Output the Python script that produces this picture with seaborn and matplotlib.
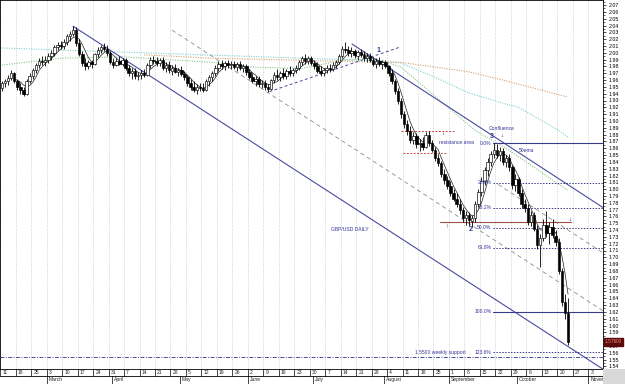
import numpy as np
import pandas as pd
import matplotlib
matplotlib.use('Agg')
import matplotlib.pyplot as plt
from matplotlib.patches import Rectangle
from matplotlib.transforms import Bbox, blended_transform_factory
import seaborn as sns

# GBP/USD daily candles, trading days counted from Mon 11 Feb 2008 (day 0)
first_open = 1.948
closes = [1.955, 1.958, 1.963, 1.970, 1.958, 1.950, 1.945, 1.940, 1.958, 1.966,
          1.975, 1.982, 1.988, 1.986, 1.990, 1.995, 2.000, 2.008, 2.012, 2.010,
          2.016, 2.024, 2.028, 2.034, 2.015, 1.998, 1.985, 1.980, 1.986, 1.984,
          1.998, 2.004, 2.008, 2.006, 1.999, 1.987, 1.982, 1.988, 1.984, 1.989,
          1.978, 1.970, 1.974, 1.966, 1.968, 1.970, 1.968, 1.982, 1.990, 1.988,
          1.985, 1.990, 1.978, 1.982, 1.974, 1.978, 1.972, 1.975, 1.969, 1.964,
          1.956, 1.950, 1.946, 1.950, 1.948, 1.946, 1.958, 1.964, 1.970, 1.978,
          1.984, 1.980, 1.985, 1.982, 1.984, 1.979, 1.983, 1.978, 1.980, 1.972,
          1.965, 1.958, 1.962, 1.954, 1.956, 1.950, 1.947, 1.960, 1.968, 1.964,
          1.970, 1.966, 1.973, 1.970, 1.975, 1.978, 1.987, 1.992, 1.988, 1.992,
          1.985, 1.980, 1.974, 1.970, 1.975, 1.978, 1.976, 1.982, 1.986, 1.995,
          2.006, 2.004, 2.000, 2.002, 1.996, 2.001, 1.997, 1.992, 1.996, 1.990,
          1.984, 1.988, 1.983, 1.986, 1.980, 1.970, 1.958, 1.944, 1.930, 1.910,
          1.895, 1.885, 1.872, 1.878, 1.866, 1.868, 1.862, 1.880, 1.868, 1.858,
          1.846, 1.838, 1.822, 1.814, 1.805, 1.795, 1.786, 1.778, 1.770, 1.758,
          1.762, 1.754, 1.758, 1.778, 1.796, 1.812, 1.828, 1.840, 1.852, 1.858,
          1.850, 1.856, 1.840, 1.846, 1.832, 1.806, 1.815, 1.794, 1.778, 1.772,
          1.752, 1.762, 1.742, 1.718, 1.728, 1.748, 1.736, 1.744, 1.732, 1.722,
          1.680, 1.634, 1.618, 1.576]
highs = [1.958, 1.962, 1.968, 1.975, 1.972, 1.962, 1.955, 1.950, 1.962, 1.970,
         1.978, 1.985, 1.992, 1.995, 1.995, 2.000, 2.004, 2.012, 2.016, 2.018,
         2.020, 2.028, 2.032, 2.040, 2.038, 2.020, 2.002, 1.992, 1.990, 1.990,
         2.000, 2.008, 2.012, 2.014, 2.012, 2.002, 1.992, 1.992, 1.995, 1.992,
         1.992, 1.982, 1.978, 1.978, 1.972, 1.975, 1.976, 1.985, 1.994, 1.996,
         1.994, 1.992, 1.994, 1.986, 1.988, 1.982, 1.984, 1.978, 1.980, 1.974,
         1.968, 1.962, 1.958, 1.954, 1.956, 1.955, 1.962, 1.968, 1.974, 1.982,
         1.988, 1.990, 1.988, 1.990, 1.988, 1.988, 1.986, 1.988, 1.984, 1.984,
         1.976, 1.970, 1.966, 1.966, 1.960, 1.960, 1.954, 1.962, 1.972, 1.976,
         1.974, 1.978, 1.976, 1.980, 1.978, 1.982, 1.990, 1.996, 1.998, 1.996,
         1.996, 1.990, 1.986, 1.980, 1.978, 1.982, 1.984, 1.986, 1.990, 1.998,
         2.010, 2.016, 2.010, 2.008, 2.006, 2.004, 2.006, 2.002, 2.000, 2.000,
         1.994, 1.992, 1.994, 1.990, 1.990, 1.982, 1.976, 1.962, 1.948, 1.934,
         1.915, 1.902, 1.892, 1.884, 1.882, 1.874, 1.876, 1.884, 1.886, 1.872,
         1.862, 1.852, 1.842, 1.830, 1.820, 1.812, 1.800, 1.794, 1.786, 1.774,
         1.768, 1.766, 1.762, 1.782, 1.800, 1.818, 1.832, 1.846, 1.856, 1.867,
         1.866, 1.862, 1.860, 1.850, 1.852, 1.836, 1.822, 1.818, 1.800, 1.786,
         1.778, 1.768, 1.766, 1.748, 1.734, 1.756, 1.768, 1.752, 1.756, 1.740,
         1.728, 1.684, 1.646, 1.640]
lows = [1.944, 1.950, 1.953, 1.960, 1.955, 1.945, 1.940, 1.936, 1.938, 1.955,
        1.962, 1.970, 1.978, 1.982, 1.980, 1.985, 1.990, 1.996, 2.004, 2.005,
        2.006, 2.012, 2.018, 2.024, 2.010, 1.995, 1.980, 1.975, 1.976, 1.978,
        1.982, 1.994, 2.000, 2.002, 1.996, 1.984, 1.978, 1.980, 1.982, 1.980,
        1.975, 1.966, 1.962, 1.962, 1.960, 1.962, 1.964, 1.966, 1.978, 1.984,
        1.980, 1.980, 1.975, 1.972, 1.970, 1.968, 1.970, 1.966, 1.966, 1.960,
        1.952, 1.946, 1.942, 1.940, 1.944, 1.942, 1.944, 1.952, 1.958, 1.966,
        1.974, 1.976, 1.975, 1.978, 1.976, 1.976, 1.974, 1.975, 1.972, 1.968,
        1.962, 1.955, 1.952, 1.950, 1.948, 1.946, 1.942, 1.945, 1.955, 1.960,
        1.958, 1.962, 1.962, 1.966, 1.966, 1.970, 1.975, 1.982, 1.984, 1.984,
        1.982, 1.976, 1.970, 1.966, 1.966, 1.970, 1.972, 1.974, 1.978, 1.984,
        1.992, 2.000, 1.996, 1.994, 1.992, 1.990, 1.994, 1.988, 1.986, 1.986,
        1.980, 1.978, 1.980, 1.976, 1.978, 1.966, 1.954, 1.940, 1.925, 1.905,
        1.890, 1.880, 1.868, 1.866, 1.860, 1.856, 1.858, 1.860, 1.864, 1.854,
        1.842, 1.834, 1.818, 1.808, 1.800, 1.790, 1.782, 1.774, 1.764, 1.752,
        1.748, 1.746, 1.744, 1.752, 1.774, 1.790, 1.806, 1.820, 1.834, 1.846,
        1.845, 1.842, 1.836, 1.832, 1.826, 1.800, 1.798, 1.790, 1.772, 1.766,
        1.748, 1.746, 1.738, 1.712, 1.686, 1.724, 1.730, 1.720, 1.728, 1.716,
        1.676, 1.628, 1.610, 1.572]

# weekly ticks (Mondays) and month row
week_labels = ['11', '18', '25', '3', '10', '17', '24', '31', '7', '14', '21', '28',
               '5', '12', '19', '26', '2', '9', '16', '23', '30', '7', '14', '21',
               '28', '4', '11', '18', '25', '1', '8', '15', '22', '29', '6', '13',
               '20', '27', '3']
month_names = ['March', 'April', 'May', 'June', 'July', 'August', 'September',
               'October', 'November']
month_start_days = [15, 36, 58, 80, 101, 124, 145, 167, 190]

# moving averages
teal_days = [0, 32, 65, 97, 123, 129, 140, 151, 162, 167, 180, 183]
teal_vals = [2.007, 2.002, 1.997, 1.992, 1.988, 1.985, 1.964, 1.941, 1.926, 1.920, 1.886, 1.876]
green_days = [0, 19, 39, 68, 81, 97, 110, 120, 129, 153, 163, 183]
green_vals = [1.982, 1.992, 1.994, 1.986, 1.979, 1.977, 1.989, 1.992, 1.979, 1.886, 1.860, 1.798]
orange_days = [46, 68, 97, 123, 129, 140, 151, 162, 172, 183]
orange_vals = [1.997, 1.992, 1.989, 1.986, 1.986, 1.979, 1.972, 1.960, 1.948, 1.935]

# drawn trend lines: (day0, price0, day1, price1)
channel_lines = [(23.0, 2.039, 194.3, 1.536), (113.2, 2.0127, 194.3, 1.773)]
mid_lines = [(55.0, 2.0332, 194.3, 1.6215), (160.4, 1.8068, 194.3, 1.7065)]
wedge_line = (86.5, 1.943, 128.5, 2.008)
support_line = 1.554
level_175 = (141.5, 183.8, 1.752)
resistance = [(129.0, 146.5, 1.8847), (129.6, 143.5, 1.8524)]

fib_names = ['0.0%', '23.6%', '38.2%', '50.0%', '61.8%', '100.0%', '123.6%']
fib_prices = [1.867, 1.809, 1.773, 1.7435, 1.714, 1.620, 1.561]

notes = [('1', 121.6, 2.004, 5, 'bold'), ('2', 151.6, 1.741, 5, 'bold'),
         ('3', 158.4, 1.877, 5, 'bold'), ('Confluence', 161.6, 1.889, 3.6, 'normal'),
         ('\u2193', 161.6, 1.878, 4.5, 'bold'), ('50ema', 169.5, 1.857, 3.6, 'normal'),
         ('resistance area', 146.8, 1.869, 3.6, 'normal'), ('\u2193', 142.6, 1.881, 4.5, 'bold'),
         ('\u2191', 143.9, 1.745, 4.5, 'bold'), ('\u2193', 183.6, 1.756, 4.5, 'bold'),
         ('GBP/USD DAILY', 112.5, 1.741, 3.6, 'normal'),
         ('1.5500 weekly support', 141.6, 1.561, 3.6, 'normal')]

sns.set_style('white')
plt.rcParams['font.family'] = ['Liberation Sans', 'DejaVu Sans']
navy = '#35359a'

fig = plt.figure(figsize=(6.25, 3.84), dpi=100)
ax = fig.add_axes([0, 15 / 384, 603 / 625, 369 / 384])
ax.set_xlim(-0.6, 194.3)
ax.set_ylim(1.5362, 2.0774)

days = np.arange(len(closes))
c = np.array(closes)
o = np.array([first_open] + closes[:-1])
h = np.array(highs)
l = np.array(lows)

# weekly grid
week_pos = np.arange(len(week_labels)) * 5 - 0.5
ax.vlines(week_pos, 1.5362, 2.0774, color='#c0c0c0', lw=0.5, ls=(0, (1.5, 2)), zorder=0)

# moving averages
sns.lineplot(x=teal_days, y=teal_vals, ax=ax, color='#7fd0d0', lw=0.8, linestyle=(0, (1, 1.2)), zorder=1)
sns.lineplot(x=green_days, y=green_vals, ax=ax, color='#8cc88c', lw=0.8, linestyle=(0, (1, 1.2)), zorder=1)
sns.lineplot(x=orange_days, y=orange_vals, ax=ax, color='#d8a070', lw=0.8, linestyle=(0, (1, 1.2)), zorder=1)
sma5 = pd.Series(c).rolling(5).mean()
ax.plot(days, sma5, color='#202020', lw=0.5, zorder=2)

# trend lines
for d0, p0, d1, p1 in channel_lines:
    ax.plot([d0, d1], [p0, p1], color='#4a4aa0', lw=0.8, zorder=2)
for d0, p0, d1, p1 in mid_lines:
    ax.plot([d0, d1], [p0, p1], color='#8c8c8c', lw=0.6, ls=(0, (5, 4)), zorder=2)
ax.plot([wedge_line[0], wedge_line[2]], [wedge_line[1], wedge_line[3]], color='#4a4aa0', lw=0.7,
        ls=(0, (3, 2.5)), zorder=2)
ax.axhline(support_line, color='#4a4a9a', lw=0.7, ls=(0, (4, 1.5, 1, 1.5)), zorder=2)
ax.plot([level_175[0], level_175[1]], [level_175[2]] * 2, color='#a05048', lw=0.8, zorder=2)
for d0, d1, p in resistance:
    ax.plot([d0, d1], [p, p], color='#c84848', lw=0.7, ls=(0, (2, 1.5)), zorder=2)

# fibonacci levels
for name, p in zip(fib_names, fib_prices):
    solid = name in ('0.0%', '100.0%')
    ax.plot([158.6, 194.3], [p, p], color='#3a3a8a', lw=0.8 if solid else 0.7,
            ls='-' if solid else (0, (1.5, 1.5)), zorder=2)
    ax.text(158.2, p, name, ha='right', va='center', fontsize=3.6, color=navy, zorder=5)

# candles
up = c >= o
ax.vlines(days, l, h, color='black', lw=0.6, zorder=3)
height = np.where(np.abs(c - o) < 0.0008, 0.0008, c - o)
ax.bar(days[up], height[up], bottom=o[up], width=0.8, color='white', edgecolor='black',
       linewidth=0.45, zorder=4)
ax.bar(days[~up], height[~up], bottom=o[~up], width=0.8, color='black', edgecolor='black',
       linewidth=0.45, zorder=4)

for text, d, p, size, weight in notes:
    ax.text(d, p, text, ha='center', va='center', fontsize=size, color=navy,
            fontweight=weight, zorder=6)

# right price axis (the label under the last-price box is hidden, as in the terminal)
ticks = np.round(np.arange(1.54, 2.0751, 0.01), 2)
ax.set_yticks(ticks)
ax.set_yticklabels(['' if abs(t - c[-1]) < 0.006 else f'{t:.2f}' for t in ticks])
ax.set_yticks(np.round(np.arange(1.545, 2.075, 0.01), 3), minor=True)
ax.yaxis.tick_right()
ax.tick_params(axis='y', which='major', length=2.5, width=0.5, pad=1.5, labelsize=3.8,
               colors='black', right=True, left=False)
ax.tick_params(axis='y', which='minor', length=1.5, width=0.5, right=True, left=False)
ax.set_xticks([])
for s in ax.spines.values():
    s.set_linewidth(0.6)
    s.set_color('black')

# last price box
ax.text(1.003, c[-1], f'{c[-1]:.5f}', transform=blended_transform_factory(ax.transAxes, ax.transData),
        ha='left', va='center', fontsize=3.4, color='#ff8c8c', clip_on=False,
        bbox=dict(boxstyle='square,pad=0.25', facecolor='#5a0a0a', edgecolor='#5a0a0a'))

# bottom date rows
xt = ax.get_xaxis_transform()
row = -7 / 369
clip = Bbox.from_extents(0, 0, 603, 384)
ax.plot([-0.6, 194.3], [row, row], transform=xt, color='black', lw=0.6, clip_on=False)
for pos, lab in zip(week_pos, week_labels):
    ax.plot([pos, pos], [0, row], transform=xt, color='black', lw=0.5, clip_on=False)
    ax.text(pos + 0.7, -0.002, lab, transform=xt, ha='left', va='top', fontsize=3.6, clip_on=False)
for d, name in zip(month_start_days, month_names):
    ax.plot([d - 0.5, d - 0.5], [row, -15 / 369], transform=xt, color='black', lw=0.5, clip_on=False)
    t = ax.text(d + 0.2, row - 0.002, name, transform=xt, ha='left', va='top', fontsize=3.6)
    t.set_clip_on(True)
    t.set_clip_box(clip)

fig.patches.append(Rectangle((603 / 625, 0), 22 / 625, 15 / 384, transform=fig.transFigure,
                             facecolor='#d9d9d9', edgecolor='none'))

fig.savefig('out.png', dpi=100)
